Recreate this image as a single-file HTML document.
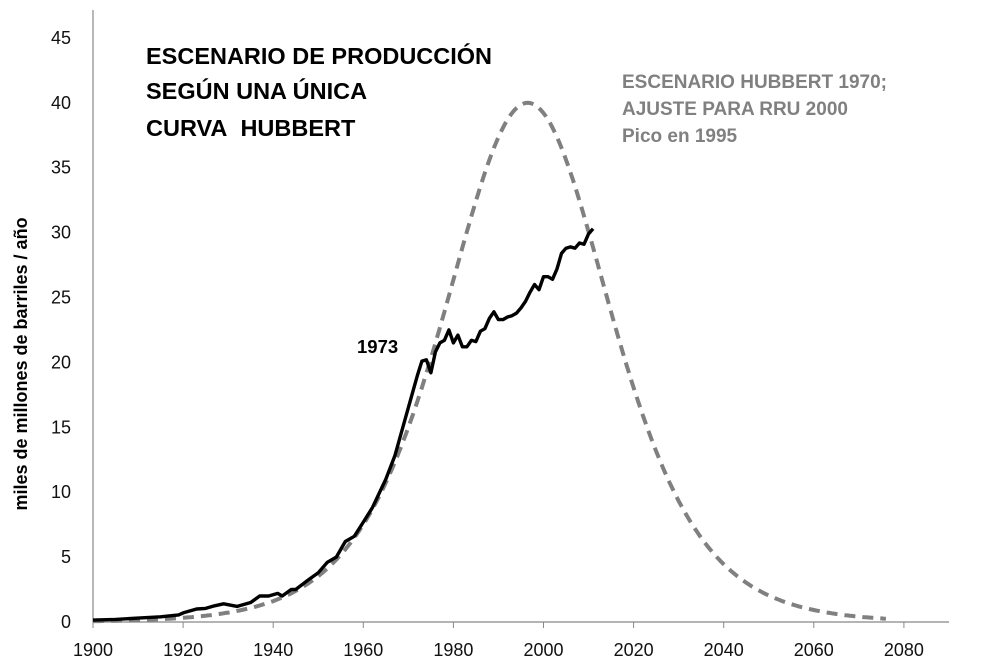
<!DOCTYPE html>
<html><head><meta charset="utf-8"><style>
body{margin:0;background:#fff}
svg{display:block;font-family:"Liberation Sans",sans-serif}
</style></head><body>
<svg id="s" width="992" height="665" viewBox="0 0 992 665">
<rect width="992" height="665" fill="#fff"/>
<g stroke="#888" stroke-width="1.2">
<line x1="93" y1="10" x2="93" y2="622"/>
<line x1="93" y1="622" x2="949" y2="622"/>
</g>
<g id="ticks" stroke="#888" stroke-width="1"></g>
<g id="lbl" font-size="18" fill="#111"></g>
<path id="hub" fill="none" stroke="#808080" stroke-width="4" stroke-dasharray="11,7"/>
<path id="dat" fill="none" stroke="#000" stroke-width="3.4" stroke-linejoin="round"/>
<g font-weight="bold" font-size="23.5" fill="#000">
<text x="146" y="64">ESCENARIO DE PRODUCCIÓN</text>
<text x="146" y="99">SEGÚN UNA ÚNICA</text>
<text x="146" y="136">CURVA&#160; HUBBERT</text>
</g>
<g font-weight="bold" font-size="19" fill="#808080">
<text x="622" y="88">ESCENARIO HUBBERT 1970;</text>
<text x="622" y="115">AJUSTE PARA RRU 2000</text>
<text x="622" y="142">Pico en 1995</text>
</g>
<text x="357" y="353" font-weight="bold" font-size="18.5">1973</text>
<text transform="translate(27,364) rotate(-90)" text-anchor="middle" font-weight="bold" font-size="18">miles de millones de barriles / año</text>
</svg>
<script>
var X=function(t){return 93+(t-1900)*4.505},Y=function(v){return 622-v*12.98};
var tk=document.getElementById('ticks'),lb=document.getElementById('lbl'),h='',l='';
for(var y=1900;y<=2080;y+=20){h+='<line x1="'+X(y)+'" y1="622" x2="'+X(y)+'" y2="628"/>';l+='<text x="'+X(y)+'" y="656" text-anchor="middle">'+y+'</text>';}
for(var v=0;v<=45;v+=5){l+='<text x="71" y="'+(Y(v)+6)+'" text-anchor="end">'+v+'</text>';}
tk.innerHTML=h;lb.innerHTML=l;
var d='',b=0.081;
for(var t=1900;t<=2076;t+=0.5){var c=Math.cosh(b*(t-1996.5)/2);var p=40/(c*c);d+=(d?'L':'M')+X(t).toFixed(1)+','+Y(p).toFixed(1);}
document.getElementById('hub').setAttribute('d',d);
var D=[[1900,0.15],[1905,0.2],[1910,0.3],[1915,0.4],[1919,0.55],[1920,0.7],[1923,1.0],[1925,1.05],[1927,1.25],[1929,1.4],[1932,1.2],[1935,1.5],[1937,2.0],[1939,2.0],[1941,2.2],[1942,2.0],[1944,2.5],[1945,2.5],[1948,3.3],[1950,3.8],[1952,4.6],[1954,5.0],[1956,6.2],[1958,6.6],[1960,7.7],[1962,8.8],[1965,11.0],[1967,12.8],[1970,16.5],[1972,19.0],[1973,20.1],[1974,20.2],[1975,19.2],[1976,20.8],[1977,21.5],[1978,21.7],[1979,22.5],[1980,21.5],[1981,22.1],[1982,21.2],[1983,21.2],[1984,21.7],[1985,21.6],[1986,22.4],[1987,22.6],[1988,23.4],[1989,23.9],[1990,23.3],[1991,23.3],[1992,23.5],[1993,23.6],[1994,23.8],[1995,24.2],[1996,24.7],[1997,25.4],[1998,26.0],[1999,25.6],[2000,26.6],[2001,26.6],[2002,26.4],[2003,27.2],[2004,28.4],[2005,28.8],[2006,28.9],[2007,28.8],[2008,29.2],[2009,29.1],[2010,29.9],[2011,30.3]];
var e='';D.forEach(function(q,i){e+=(i?'L':'M')+X(q[0]).toFixed(1)+','+Y(q[1]).toFixed(1);});
document.getElementById('dat').setAttribute('d',e);
</script>
</body></html>
